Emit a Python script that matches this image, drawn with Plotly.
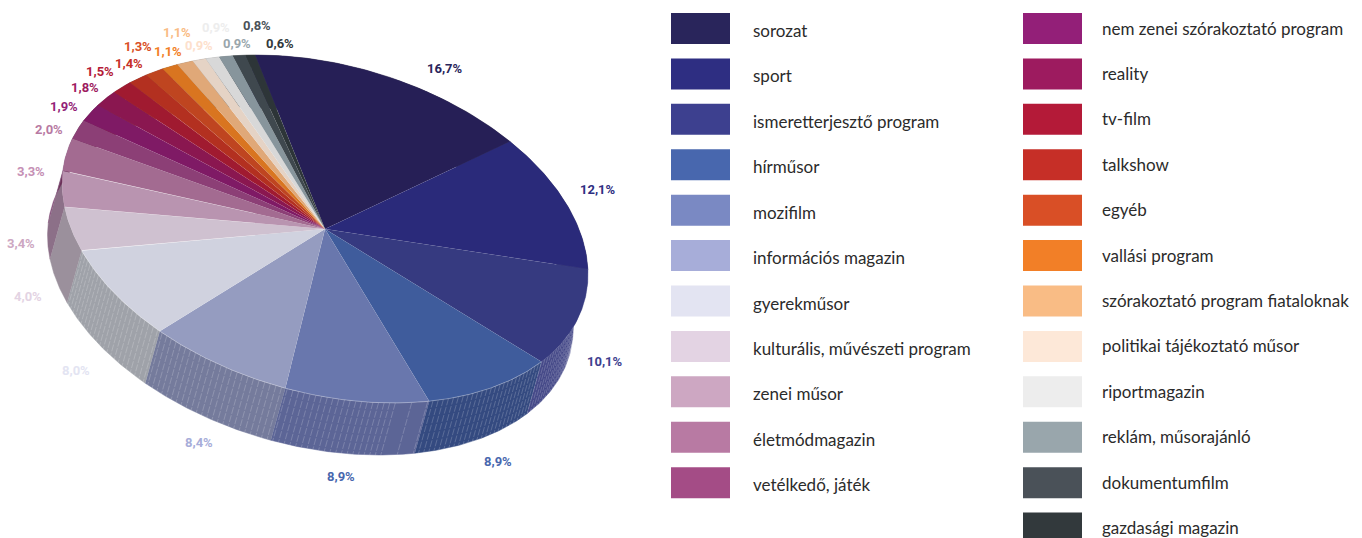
import numpy as np
import plotly.graph_objects as go

categories = ["sorozat", "sport", "ismeretterjesztő program", "hírműsor", "mozifilm",
              "információs magazin", "gyerekműsor", "kulturális, művészeti program",
              "zenei műsor", "életmódmagazin", "vetélkedő, játék",
              "nem zenei szórakoztató program", "reality", "tv-film", "talkshow", "egyéb",
              "vallási program", "szórakoztató program fiataloknak",
              "politikai tájékoztató műsor", "riportmagazin", "reklám, műsorajánló",
              "dokumentumfilm", "gazdasági magazin"]
values = [16.7, 12.1, 10.1, 8.9, 8.9, 8.4, 8.0, 4.0, 3.4, 3.3, 2.0, 1.9, 1.8, 1.5, 1.4, 1.3,
          1.1, 1.1, 0.9, 0.9, 0.9, 0.8, 0.6]
legend_colors = ["#29255b", "#2e2e82", "#3d408f", "#4867ae", "#7a89c3", "#a7add9", "#e3e4f2",
                 "#e3d3e3", "#cda7c2", "#b87aa3", "#a44c86", "#931f78", "#9d1b5f", "#b41a38",
                 "#c62f27", "#d94f26", "#f27f27", "#f9bc85", "#fde8d8", "#ededed", "#99a6ac",
                 "#4a5158", "#32393c"]
top_colors = ["#261f56", "#2a2a7a", "#363a80", "#3f5c9c", "#6977ad", "#959cc0", "#d0d2df",
              "#cfc1d0", "#b994b0", "#a36b91", "#8c3f76", "#7f1a65", "#8a1750", "#a01a30",
              "#b33020", "#bf4520", "#d97520", "#e0a878", "#e5d3c5", "#d8d8d8", "#87959c",
              "#3f484e", "#2d3538"]
side_colors = ["#1c173f", "#20205c", "#454988", "#344a80", "#5c6596", "#757b9c", "#9fa2a9",
               "#9b909c", "#8c7088", "#84507a", "#6c3058", "#60144c", "#681240", "#781424",
               "#862418", "#8f3418", "#a25818", "#a87e5a", "#ac9e94", "#a2a2a2", "#657075",
               "#2f363a", "#22282a"]
label_colors = ["#29255b", "#2e2e82", "#3d408f", "#4867ae", "#4867ae", "#a7add9", "#e3e4f2",
                "#e3d3e3", "#cda7c2", "#c58fb5", "#b87aa3", "#931f78", "#9d1b5f", "#b41a38",
                "#c62f27", "#d94f26", "#f27f27", "#f9bc85", "#fde0cc", "#ededed", "#99a6ac",
                "#4a5158", "#32393c"]
# label placement on the page (layout, not data)
label_xy = [(445, 68), (598, 189), (605, 361), (498, 461), (341, 476), (199, 442), (76, 370),
            (28, 296), (21, 243), (31, 171), (49, 129), (64, 106), (85, 87), (100, 71), (129, 63),
            (138, 46), (168, 51), (177, 32), (199, 45), (216, 27), (237, 43), (257, 25), (280, 43)]

CX, CY = 325.0, 229.0
U = np.array([-70.0, -174.0])
V = np.array([253.5, -1.0])
DEPTH = np.array([-14.5, 52.0])
FONT_TEXT = "Lato"
FONT_LABEL = "Roboto"


def rim(s):
    t = 2 * np.pi * np.asarray(s)
    return CX + U[0] * np.cos(t) + V[0] * np.sin(t), CY + U[1] * np.cos(t) + V[1] * np.sin(t)


cum = np.concatenate([[0], np.cumsum(values)]) / sum(values)
fig = go.Figure()

# side wall, drawn first so that the top covers its far half
for i in range(len(values)):
    s = np.linspace(cum[i], cum[i + 1], 60)
    x, y = rim(s)
    fig.add_trace(go.Scatter(
        x=np.concatenate([x, x[::-1] + DEPTH[0]]),
        y=np.concatenate([y, y[::-1] + DEPTH[1]]),
        fill="toself", fillcolor=side_colors[i], mode="lines",
        line=dict(width=0.5, color=side_colors[i]), hoverinfo="skip", showlegend=False))

# hairline facets on the wall
hx, hy = [], []
step = 1.25 / 360
for s in np.arange(cum[2], cum[7], step):
    if cum[4] < s < cum[4] + 0.02 and int(round(s / step)) % 3:
        continue
    x, y = rim(s)
    hx += [float(x), float(x + DEPTH[0]), None]
    hy += [float(y), float(y + DEPTH[1]), None]
fig.add_trace(go.Scatter(x=hx, y=hy, mode="lines", hoverinfo="skip", showlegend=False,
                         line=dict(width=0.6, color="rgba(255,255,255,0.32)", dash="7px,1.5px")))

# top face
for i in range(len(values)):
    s = np.linspace(cum[i], cum[i + 1], 80)
    x, y = rim(s)
    fig.add_trace(go.Scatter(
        x=np.concatenate([[CX], x, [CX]]), y=np.concatenate([[CY], y, [CY]]),
        fill="toself", fillcolor=top_colors[i], mode="lines",
        line=dict(width=0.4, color="rgba(255,255,255,0.08)"),
        name=categories[i], hoverinfo="name", showlegend=False))

# faint highlight along the front rim
x, y = rim(np.linspace(cum[3], cum[7], 200))
fig.add_trace(go.Scatter(x=x, y=y, mode="lines", hoverinfo="skip", showlegend=False,
                         line=dict(width=0.7, color="rgba(255,255,255,0.4)")))

annotations = []
shapes = []
for v, (x, y), c in zip(values, label_xy, label_colors):
    annotations.append(dict(x=x, y=y, text=f"<b>{v:.1f}%</b>".replace(".", ","), showarrow=False,
                            xanchor="center", yanchor="middle",
                            font=dict(family=FONT_LABEL, size=13, color=c)))

ROW0, PITCH = 13.0, 45.42
for i, name in enumerate(categories):
    col2 = i >= 11
    row = i - 11 if col2 else i
    top = ROW0 + PITCH * row
    x0 = 1023 if col2 else 671
    shapes.append(dict(type="rect", x0=x0, x1=x0 + 59, y0=top, y1=top + 31,
                       fillcolor=legend_colors[i], line=dict(width=0), layer="below"))
    annotations.append(dict(x=1100 if col2 else 751, y=top + (15 if col2 else 17.5), text=name,
                            showarrow=False, xanchor="left", yanchor="middle",
                            font=dict(family=FONT_TEXT, size=17, color="#2b2b2b")))

fig.update_layout(
    width=1362, height=538, margin=dict(l=0, r=0, t=0, b=0), paper_bgcolor="white",
    plot_bgcolor="white", showlegend=False, annotations=annotations, shapes=shapes,
    xaxis=dict(range=[0, 1362], visible=False, fixedrange=True),
    yaxis=dict(range=[538, 0], visible=False, fixedrange=True))
fig.write_html("out.html", config={"displayModeBar": False},
               post_script="document.body.style.margin='0';document.body.style.overflow='hidden';")
